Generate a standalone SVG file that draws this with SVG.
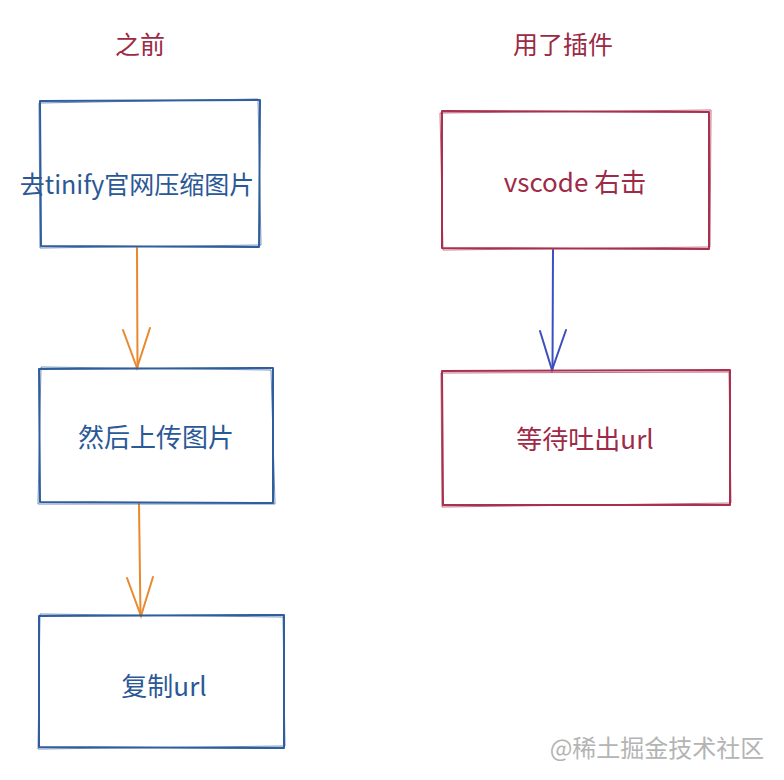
<svg xmlns="http://www.w3.org/2000/svg" width="784" height="780" viewBox="0 0 784 780">
<style>
.bb{fill:none;stroke:#305e9c;stroke-width:2;stroke-linejoin:round;stroke-linecap:round}
.bb2{fill:none;stroke:#305e9c;stroke-width:1;opacity:0.7}
.rb{fill:none;stroke:#a8314f;stroke-width:2;stroke-linejoin:round;stroke-linecap:round}
.rb2{fill:none;stroke:#a8314f;stroke-width:1;opacity:0.7}
.oa{fill:none;stroke:#e8892f;stroke-width:2;stroke-linecap:round}
.ba{fill:none;stroke:#3c4fbf;stroke-width:2;stroke-linecap:round}
.tb{font-family:"Noto Sans CJK SC","Noto Sans",sans-serif;font-size:26px;fill:#2b5896;text-anchor:middle}
.tr{font-family:"Noto Sans CJK SC","Noto Sans",sans-serif;font-size:26px;fill:#9e2a48;text-anchor:middle}
.title{font-family:"Noto Sans CJK SC",sans-serif;font-size:25px;fill:#9b2a45;text-anchor:middle}
.wm{font-family:"Noto Sans CJK SC",sans-serif;font-size:24px;fill:#b4b4b4;text-anchor:middle}
</style>
<rect width="784" height="780" fill="#ffffff"/>
<text class="title" x="140" y="54">之前</text>
<text class="title" x="563" y="54">用了插件</text>
<g id="connectors">
<path class="oa" d="M137 248 L137.5 367"/>
<path class="oa" d="M123 330 L137 368 L150 328"/>
<path class="oa" d="M139 504 L140.5 615"/>
<path class="oa" d="M127 578 L141 616 L153 577"/>
<path class="ba" d="M553 250 L552.5 369"/>
<path class="ba" d="M540 331 L552 370 L566 330"/>
</g>
<g id="n1">
<path class="bb" d="M40 101 L260 100 L259 247 L41 246 Z"/>
<path class="bb2" d="M39 103 L258 99 L261 245 L40 248 Z"/>
<text class="tb" x="137" y="194" style="font-size:25px">去tinify官网压缩图片</text>
</g>
<g id="n2">
<path class="bb" d="M39 369 L273 368 L273 503 L40 502 Z"/>
<path class="bb2" d="M41 367 L271 370 L275 504 L38 504 Z"/>
<text class="tb" x="156" y="447">然后上传图片</text>
</g>
<g id="n3">
<path class="bb" d="M39 616 L284 615 L284 748 L39 747 Z"/>
<path class="bb2" d="M40 614 L283 617 L285 746 L38 749 Z"/>
<text class="tb" x="164" y="696">复制url</text>
</g>
<g id="n4">
<path class="rb" d="M442 111 L709 112 L709 249 L442 248 Z"/>
<path class="rb2" d="M440 113 L711 110 L710 247 L443 250 Z"/>
<text class="tr" x="575" y="192">vscode 右击</text>
</g>
<g id="n5">
<path class="rb" d="M442 371 L730 370 L730 505 L443 505 Z"/>
<path class="rb2" d="M441 373 L729 372 L731 503 L442 507 Z"/>
<text class="tr" x="585" y="449">等待吐出url</text>
</g>
<text class="wm" x="657" y="757">@稀土掘金技术社区</text>
</svg>
